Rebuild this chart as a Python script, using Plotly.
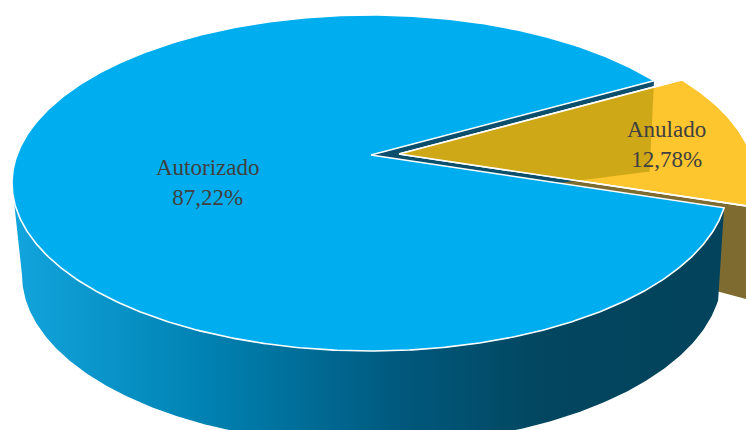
import numpy as np
import plotly.graph_objects as go

# ---------------- data ----------------
labels = ["Autorizado", "Anulado"]
values = [87.22, 12.78]

# ---------------- style ----------------
W, H = 746, 430
top_colors = ["#00AEEF", "#FDC52E"]
radial_colors = ["#0B4F6C", "#7E6B30"]
overlay_colors = [None, "#CFA817"]
wall_scales = [
    [[0, "#12A5DD"], [0.27, "#0082B3"], [0.55, "#00587C"], [0.75, "#03465F"], [1, "#03435C"]],
    [[0, "#7E6B30"], [1, "#6E5C28"]],
]
CX, CY, RX, RY = 370, 183, 358, 168       # top ellipse
BCX, BCY, BRX, BRY = 372, 275, 350, 170   # bottom ellipse (perspective)
APEX = np.array([371.0, 155.0])
APEX_B = np.array([371.0, 207.0])
START_ANGLE = 8.5                          # degrees, clockwise on screen
EXPLODE = [(0, 0), (28, -1)]
label_pos = [(207, 182), (666, 144)]
FONT = dict(family="Liberation Serif, Times New Roman, serif", size=23, color="#404040")


def top_pt(t):
    r = np.radians(t)
    return np.stack([CX + RX * np.cos(r), CY + RY * np.sin(r)], axis=-1)


def bot_pt(t):
    r = np.radians(t)
    return np.stack([BCX + BRX * np.cos(r), BCY + BRY * np.sin(r)], axis=-1)


def clip(subject, clipper):
    """Sutherland-Hodgman clipping of polygon by convex polygon."""
    def inside(p, a, b, s):
        return s * ((b[0] - a[0]) * (p[1] - a[1]) - (b[1] - a[1]) * (p[0] - a[0])) >= 0

    def inter(p1, p2, a, b):
        x1, y1 = p1; x2, y2 = p2; x3, y3 = a; x4, y4 = b
        d = (x1 - x2) * (y3 - y4) - (y1 - y2) * (x3 - x4)
        if abs(d) < 1e-12:
            return p2
        t = ((x1 - x3) * (y3 - y4) - (y1 - y3) * (x3 - x4)) / d
        return (x1 + t * (x2 - x1), y1 + t * (y2 - y1))

    area = 0
    for i in range(len(clipper)):
        a, b = clipper[i], clipper[(i + 1) % len(clipper)]
        area += a[0] * b[1] - b[0] * a[1]
    s = 1 if area > 0 else -1
    out = [tuple(p) for p in subject]
    for i in range(len(clipper)):
        a, b = clipper[i], clipper[(i + 1) % len(clipper)]
        inp = out
        out = []
        if not inp:
            break
        prev = inp[-1]
        for cur in inp:
            if inside(cur, a, b, s):
                if not inside(prev, a, b, s):
                    out.append(inter(prev, cur, a, b))
                out.append(cur)
            elif inside(prev, a, b, s):
                out.append(inter(prev, cur, a, b))
            prev = cur
    return np.array(out) if out else np.zeros((0, 2))


def poly_trace(pts, fill=None, line_color=None, line_width=0, gradient=None):
    pts = np.asarray(pts)
    xs = list(pts[:, 0]) + [pts[0, 0]]
    ys = list(pts[:, 1]) + [pts[0, 1]]
    kw = dict(x=xs, y=ys, mode="lines", hoverinfo="skip", showlegend=False)
    if fill is not None or gradient is not None:
        kw["fill"] = "toself"
        if gradient is not None:
            kw["fillgradient"] = dict(type="horizontal", colorscale=gradient)
        else:
            kw["fillcolor"] = fill
    kw["line"] = dict(color=line_color or "rgba(0,0,0,0)", width=line_width)
    return go.Scatter(**kw)


total = sum(values)
spans = [360 * v / total for v in values]
bounds = []
a = START_ANGLE
for sp in spans:
    bounds.append((a, a + sp))
    a += sp

slices = []
for i, (a0, a1) in enumerate(bounds):
    off = np.array(EXPLODE[i], dtype=float)
    arc_t = np.linspace(a0, a1, max(int(abs(a1 - a0) * 2), 8))
    top_poly = np.vstack([APEX + off, top_pt(arc_t) + off])
    radials = []
    for edge, is_end in ((a0, False), (a1, True)):
        c = np.cos(np.radians(edge))
        if (is_end and c > 0) or ((not is_end) and c < 0):
            p = top_pt(np.array([edge]))[0] + off
            q = bot_pt(np.array([edge]))[0] + off
            radials.append(np.array([APEX + off, p, q, APEX_B + off]))
    walls = []
    for k in (0, 360):
        lo, hi = max(a0, k), min(a1, k + 180)
        if hi > lo:
            tt = np.linspace(lo, hi, max(int((hi - lo) * 2), 4))
            walls.append(np.vstack([top_pt(tt) + off, bot_pt(tt[::-1]) + off]))
    slices.append(dict(top=top_poly, radials=radials, walls=walls, off=off))

fig = go.Figure()

# back-to-front painting
for i in [1, 0]:
    for r in slices[i]["radials"]:
        fig.add_trace(poly_trace(r, fill=radial_colors[i]))
    for w in slices[i]["walls"]:
        fig.add_trace(poly_trace(w, gradient=wall_scales[i]))

for i in [0, 1]:
    fig.add_trace(poly_trace(slices[i]["top"], fill=top_colors[i], line_color="white", line_width=1.6))
    if overlay_colors[i]:
        for j in range(len(slices)):
            if j == i:
                continue
            for r in slices[j]["radials"]:
                ov = clip(slices[i]["top"], r)
                if len(ov) >= 3:
                    fig.add_trace(poly_trace(ov, fill=overlay_colors[i]))
        fig.add_trace(poly_trace(slices[i]["top"], line_color="white", line_width=1.6))

for i, lab in enumerate(labels):
    txt = f"{lab}<br>{values[i]:.2f}%".replace(".", ",")
    fig.add_annotation(x=label_pos[i][0], y=label_pos[i][1], text=txt, showarrow=False,
                       font=FONT, align="center", xanchor="center", yanchor="middle")

fig.update_layout(
    width=W, height=H, margin=dict(l=0, r=0, t=0, b=0),
    paper_bgcolor="white", plot_bgcolor="white",
    xaxis=dict(range=[0, W], visible=False, fixedrange=True),
    yaxis=dict(range=[H, 0], visible=False, fixedrange=True),
)
fig.write_html("out.html")
